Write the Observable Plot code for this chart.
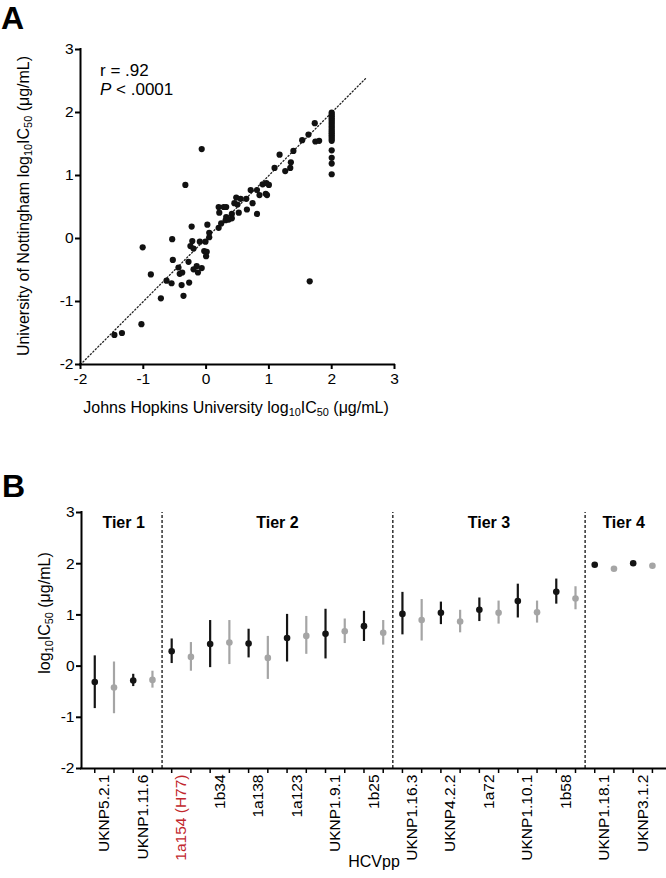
<!DOCTYPE html>
<html><head><meta charset="utf-8">
<script src="https://cdn.jsdelivr.net/npm/d3@7"></script>
<script src="https://cdn.jsdelivr.net/npm/@observablehq/plot@0.6"></script>
<style>
body{margin:0;background:#fff;}
#wrap{position:relative;width:666px;height:878px;font-family:"Liberation Sans",Arial,sans-serif;color:#000;overflow:hidden;background:#fff}
.abs{position:absolute;white-space:nowrap;line-height:1}
.panel{font-weight:bold;font-size:32px;line-height:1.1}
.title{font-size:16px;transform:translate(-50%,-50%)}
.rot{transform:translate(-50%,-50%) rotate(-90deg)}
sub{font-size:0.68em;vertical-align:baseline;position:relative;top:0.3em;line-height:0}
.stat{font-size:17px}
</style></head><body>
<div id="wrap">
  <div id="chartA" class="abs" style="left:0;top:0"></div>
  <div id="chartB" class="abs" style="left:0;top:470px"></div>
  <div class="abs panel" style="left:1px;top:1px">A</div>
  <div class="abs panel" style="left:2px;top:469px">B</div>
  <div class="abs stat" style="left:100px;top:62px">r = .92</div>
  <div class="abs stat" style="left:100px;top:81px"><i>P</i> &lt; .0001</div>
  <div class="abs title rot" style="left:24px;top:206px">University of Nottingham log<sub>10</sub>IC<sub>50</sub> (μg/mL)</div>
  <div class="abs title" style="left:236px;top:408px">Johns Hopkins University log<sub>10</sub>IC<sub>50</sub> (μg/mL)</div>
  <div class="abs title rot" style="left:45px;top:613px">log<sub>10</sub>IC<sub>50</sub> (μg/mL)</div>
  <div class="abs title" style="left:374px;top:862px">HCVpp</div>
</div>
<script>
// ---------- Panel A data ----------
const jhuX = [
  2,2,2,2,2,2,2,2,2,2,2,2,2,2,2,2,2,2,2,2,
  1.73,1.63,1.53,1.74,1.80,1.39,1.17,1.09,1.26,1.34,1.35,
  -0.07,-0.33,0.90,1.00,0.96,0.81,0.71,0.95,0.97,0.85,0.74,0.64,0.55,0.48,0.50,0.45,0.65,0.81,0.52,
  0.41,0.41,0.32,0.31,0.36,0.20,0.28,0.32,0.21,0.24,0.20,0.02,-0.23,0.05,0.05,
  -0.54,-0.22,-0.10,-0.01,-0.25,-0.20,-0.03,0.01,0.00,-1.01,-0.53,-0.28,-0.44,-0.15,-0.20,-0.13,-0.07,
  -0.42,-0.38,-0.88,-0.63,-0.55,-0.39,-0.27,-0.36,-0.72,1.65,-1.03,-1.46,-1.34
];
const nottY = [
  2.00,1.97,1.94,1.91,1.88,1.85,1.82,1.79,1.76,1.73,1.70,1.67,1.64,1.61,1.58,1.55,1.40,1.28,1.19,1.02,
  1.83,1.65,1.56,1.54,1.55,1.39,1.33,1.12,1.07,1.12,1.21,
  1.42,0.85,0.86,0.85,0.88,0.77,0.77,0.71,0.69,0.69,0.56,0.63,0.63,0.65,0.54,0.56,0.46,0.39,0.41,
  0.39,0.32,0.34,0.29,0.30,0.50,0.50,0.50,0.41,0.24,0.17,0.22,0.19,0.09,0.02,
  -0.01,-0.04,-0.05,-0.05,-0.12,-0.16,-0.20,-0.21,-0.28,-0.14,-0.34,-0.37,-0.46,-0.44,-0.49,-0.54,-0.47,
  -0.56,-0.54,-0.57,-0.67,-0.71,-0.74,-0.70,-0.91,-0.95,-0.68,-1.36,-1.53,-1.50
];
const axisTicks = [-2, -1, 0, 1, 2, 3];
const identityRange = [-2, 2.55];

// ---------- Panel B data ----------
const strains = ["UKNP5.2.1","UKNP1.11.6","1a154 (H77)","1b34","1a138","1a123","UKNP1.9.1","1b25",
  "UKNP1.16.3","UKNP4.2.2","1a72","UKNP1.10.1","1b58","UKNP1.18.1","UKNP3.1.2"];
const highlightStrain = "1a154 (H77)";
const jhuMean = [-0.31,-0.28,0.29,0.43,0.44,0.55,0.63,0.78,1.02,1.04,1.10,1.27,1.45,1.98,2.01];
const jhuLow  = [-0.83,-0.40,0.05,-0.03,0.16,0.08,0.14,0.48,0.61,0.81,0.87,0.94,1.21,null,null];
const jhuHigh = [0.20,-0.16,0.53,0.89,0.72,1.01,1.11,1.07,1.44,1.25,1.33,1.60,1.70,null,null];
const nottMean = [-0.42,-0.27,0.18,0.46,0.16,0.59,0.68,0.65,0.90,0.87,1.04,1.05,1.32,1.90,1.96];
const nottLow  = [-0.93,-0.43,-0.10,0.03,-0.26,0.23,0.44,0.41,0.49,0.65,0.82,0.84,1.10,null,null];
const nottHigh = [0.08,-0.10,0.46,0.89,0.58,0.97,0.92,0.89,1.30,1.09,1.27,1.27,1.55,null,null];
const tierNames = ["Tier 1","Tier 2","Tier 3","Tier 4"];
const tierSizes = [2, 6, 5, 2];
const labColors = {jhu: "#141414", nott: "#a5a5a5"};
const redLabel = "#c1272d";

const FONT = '"Liberation Sans", Arial, sans-serif';
const intFmt = d => `${d}`;

// ---------- Panel A ----------
const scatter = jhuX.map((x, i) => ({x, y: nottY[i]}));
const chartA = Plot.plot({
  width: 420, height: 420,
  marginLeft: 80, marginRight: 26, marginTop: 49, marginBottom: 56,
  style: {fontFamily: FONT, fontSize: "15.5px", color: "#000", background: "transparent", overflow: "visible"},
  x: {domain: [-2, 3]},
  y: {domain: [-2, 3]},
  marks: [
    Plot.line(identityRange.map(v => [v, v]), {stroke: "#222", strokeWidth: 1.3, strokeDasharray: "1.2,2.3"}),
    Plot.dot(scatter, {x: "x", y: "y", r: 3.1, fill: "#111", stroke: "none"}),
    Plot.ruleX([axisTicks[0]], {stroke: "#000", strokeWidth: 2, strokeLinecap: "square"}),
    Plot.ruleY([axisTicks[0]], {stroke: "#000", strokeWidth: 2, strokeLinecap: "square"}),
    Plot.axisX({ticks: axisTicks, tickFormat: intFmt, tickSize: 5, tickPadding: 3, strokeWidth: 2, label: null, fontSize: 15.5}),
    Plot.axisY({ticks: axisTicks, tickFormat: intFmt, tickSize: 5, tickPadding: 2, strokeWidth: 2, label: null, fontSize: 15.5})
  ]
});
document.getElementById("chartA").append(chartA);

// ---------- Panel B ----------
const rows = [];
strains.forEach((s, k) => {
  rows.push({pos: 2 * k, mean: jhuMean[k], low: jhuLow[k], high: jhuHigh[k], color: labColors.jhu});
  rows.push({pos: 2 * k + 1, mean: nottMean[k], low: nottLow[k], high: nottHigh[k], color: labColors.nott});
});
const labelRows = strains.map((s, k) => ({pos: 2 * k + 0.5, text: s, color: s === highlightStrain ? redLabel : "#000"}));
let start = 0;
const tierRows = tierNames.map((name, t) => {
  const first = start, last = start + 2 * tierSizes[t] - 1;
  start = last + 1;
  return {name, center: (first + last) / 2, boundary: last + 0.5};
});
const boundaries = tierRows.slice(0, -1).map(d => d.boundary);
const nPos = strains.length * 2;
const xDomain = [-0.69, nPos - 1 + 0.68];

const chartB = Plot.plot({
  width: 666, height: 408,
  marginLeft: 81, marginRight: 1, marginTop: 42, marginBottom: 110,
  style: {fontFamily: FONT, fontSize: "15.5px", color: "#000", background: "transparent", overflow: "visible"},
  x: {domain: xDomain},
  y: {domain: [-2, 3]},
  marks: [
    Plot.ruleX(boundaries, {y1: -2, y2: 3, stroke: "#222", strokeWidth: 1.4, strokeDasharray: "3,2"}),
    Plot.ruleX(rows.filter(d => d.low != null), {x: "pos", y1: "low", y2: "high", stroke: "color", strokeWidth: 2.2}),
    Plot.dot(rows, {x: "pos", y: "mean", r: 3.3, fill: "color", stroke: "none"}),
    Plot.text(tierRows, {x: "center", y: 3, dy: 10, text: "name", fontWeight: "bold", fontSize: 16, fill: "#000"}),
    Plot.ruleX([xDomain[0]], {stroke: "#000", strokeWidth: 2, strokeLinecap: "square"}),
    Plot.ruleY([-2], {stroke: "#000", strokeWidth: 2, strokeLinecap: "square"}),
    Plot.axisY({ticks: axisTicks, tickFormat: intFmt, tickSize: 5, tickPadding: 2, strokeWidth: 2, label: null, fontSize: 15.5}),
    Plot.axisX({ticks: d3.range(nPos), tickSize: 5, strokeWidth: 1.5, tickFormat: () => "", label: null}),
    Plot.text(labelRows, {x: "pos", y: -2, text: "text", rotate: -90, textAnchor: "end", dy: 6, fontSize: 15.5, fill: "color"})
  ]
});
document.getElementById("chartB").append(chartB);
</script>
</body></html>
